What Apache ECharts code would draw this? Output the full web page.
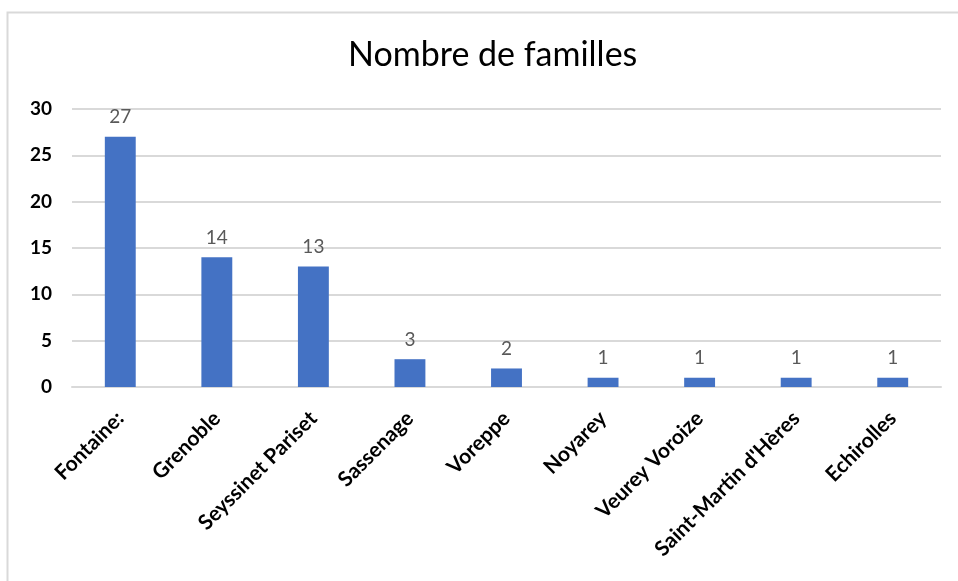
<!DOCTYPE html>
<html>
<head>
<meta charset="utf-8">
<script src="https://cdn.jsdelivr.net/npm/echarts@6/dist/echarts.min.js"></script>
<style>
  html, body { margin: 0; padding: 0; background: #fff; }
  #chart { width: 958px; height: 581px; }
</style>
</head>
<body>
<div id="chart"></div>
<script>
  // communes et nombre de familles
  var communes = ['Fontaine:', 'Grenoble', 'Seyssinet Pariset', 'Sassenage', 'Voreppe',
    'Noyarey', 'Veurey Voroize', "Saint-Martin d'Hères", 'Echirolles'];
  var familles = [27, 14, 13, 3, 2, 1, 1, 1, 1];

  var chart = echarts.init(document.getElementById('chart'));
  var option = {
    animation: false,
    backgroundColor: '#fff',
    title: {
      text: 'Nombre de familles',
      left: 343,
      top: 33,
      textStyle: {
        fontFamily: 'Lato',
        fontWeight: 'normal',
        fontSize: 34,
        color: '#000'
      }
    },
    graphic: [{
      type: 'rect',
      shape: { x: 7.5, y: 12.5, width: 1000, height: 700 },
      style: { fill: 'none', stroke: '#d9d9d9', lineWidth: 2 },
      silent: true
    }],
    grid: {
      left: 72,
      right: 17,
      top: 109,
      bottom: 194
    },
    xAxis: {
      type: 'category',
      data: communes,
      axisLine: { lineStyle: { color: '#d9d9d9', width: 2 } },
      axisTick: { show: false },
      axisLabel: {
        rotate: 45,
        interval: 0,
        margin: 28,
        fontFamily: 'Lato',
        fontWeight: 'bold',
        fontSize: 21,
        color: '#000'
      }
    },
    yAxis: {
      type: 'value',
      min: 0,
      max: 30,
      interval: 5,
      axisLine: { show: false },
      axisTick: { show: false },
      splitLine: { lineStyle: { color: '#d9d9d9', width: 2 } },
      axisLabel: {
        margin: 20,
        fontFamily: 'Lato',
        fontWeight: 'bold',
        fontSize: 19,
        color: '#000'
      }
    },
    series: [{
      type: 'bar',
      data: familles,
      barWidth: '32%',
      itemStyle: { color: '#4472c4' },
      label: {
        show: true,
        position: 'top',
        distance: 10,
        fontFamily: 'Lato',
        fontSize: 19,
        color: '#595959'
      }
    }]
  };
  chart.setOption(option);
</script>
</body>
</html>
